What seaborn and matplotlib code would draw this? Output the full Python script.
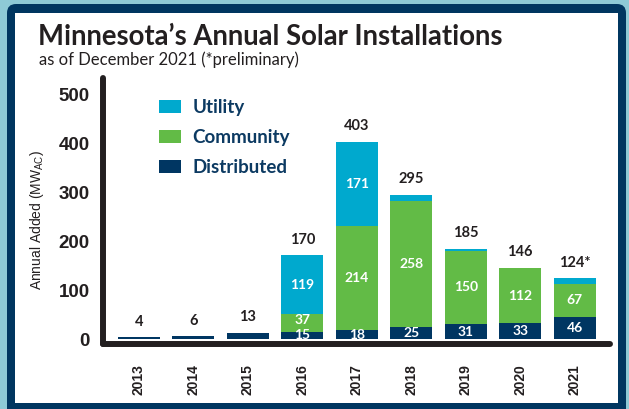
import matplotlib
matplotlib.use("Agg")
import matplotlib.pyplot as plt
import seaborn as sns
import pandas as pd
from matplotlib.patches import FancyBboxPatch, Rectangle, Patch

years = ["2013", "2014", "2015", "2016", "2017", "2018", "2019", "2020", "2021"]
distributed = [4, 6, 13, 15, 18, 25, 31, 33, 46]
community = [0, 0, 0, 37, 214, 258, 150, 112, 67]
utility = [0, 0, 0, 119, 171, 12, 4, 1, 11]
total_labels = ["4", "6", "13", "170", "403", "295", "185", "146", "124*"]

c_util = "#00A9CE"
c_comm = "#62BB46"
c_dist = "#003662"
navy = "#003660"
dark = "#231F20"

sns.set_theme(style="white")
plt.rcParams["font.family"] = ["Liberation Sans", "DejaVu Sans"]

df = pd.DataFrame({"year": years, "dist": distributed, "comm": community, "util": utility})
df["dc"] = df["dist"] + df["comm"]
df["total"] = df["dc"] + df["util"]

fig = plt.figure(figsize=(6.29, 4.09), dpi=100)
fig.patch.set_facecolor("#8ECAD6")
fig.add_artist(FancyBboxPatch((7, -10), 619, 415, boxstyle="round,pad=0,rounding_size=9",
                              transform=None, fc=navy, ec="none", zorder=-10))
fig.add_artist(Rectangle((15, 6), 603, 390, transform=None, fc="white", ec="none", zorder=-9))

ax = fig.add_axes([0.1645, 0.160, 0.8055, 0.649])
ax.set_facecolor("none")

# stacked look: draw cumulative layers from the top down
sns.barplot(data=df, x="year", y="total", color=c_util, saturation=1, width=0.77,
            linewidth=0, errorbar=None, ax=ax)
sns.barplot(data=df, x="year", y="dc", color=c_comm, saturation=1, width=0.77,
            linewidth=0, errorbar=None, ax=ax)
sns.barplot(data=df, x="year", y="dist", color=c_dist, saturation=1, width=0.77,
            linewidth=0, errorbar=None, ax=ax)

ax.set_xlim(-0.65, 8.65)
ax.set_ylim(-9, 533)
ax.set_yticks([0, 100, 200, 300, 400, 500])
ax.set_xlabel("")
ax.set_ylabel("")
for s in ["top", "right"]:
    ax.spines[s].set_visible(False)
for s in ["left", "bottom"]:
    ax.spines[s].set_color(dark)
    ax.spines[s].set_linewidth(4.3)
    ax.spines[s].set_capstyle("round")
ax.tick_params(axis="y", length=0, pad=10, labelsize=13.5, labelcolor=dark)
ax.tick_params(axis="x", length=0, pad=15, labelsize=10, labelcolor=dark, rotation=90)
for t in ax.get_yticklabels() + ax.get_xticklabels():
    t.set_fontweight("bold")

lab = dict(family=["Lato", "DejaVu Sans"], fontweight="bold", fontsize=10, ha="center", va="center")
for i, row in df.iterrows():
    if row["dist"] >= 15:
        ax.text(i, max(row["dist"] / 2, 7.5), str(row["dist"]), color="white", **lab)
    if row["comm"] >= 15:
        ax.text(i, row["dist"] + max(row["comm"] / 2, 24), str(row["comm"]), color="white", **lab)
    if row["util"] >= 15:
        ax.text(i, row["dc"] + row["util"] / 2, str(row["util"]), color="white", **lab)
    ax.annotate(total_labels[i], (i, row["total"]), xytext=(0, 6), textcoords="offset points",
                ha="center", va="bottom", color=dark, family=["Lato", "DejaVu Sans"],
                fontweight="bold", fontsize=10.5)

handles = [Patch(fc=c_util, ec="none"), Patch(fc=c_comm, ec="none"), Patch(fc=c_dist, ec="none")]
leg = ax.legend(handles, ["Utility", "Community", "Distributed"], loc="upper left",
                bbox_to_anchor=(0.11, 0.92), frameon=False, borderpad=0, borderaxespad=0,
                handlelength=1.15, handleheight=0.72, handletextpad=0.62, labelspacing=0.68,
                prop=dict(family="Lato", weight="bold", size=13.5))
for t in leg.get_texts():
    t.set_color("#0C3A62")

fig.text(38 / 629, 1 - 45 / 409, "Minnesota\u2019s Annual Solar Installations", family="Lato",
         fontweight="bold", fontsize=19.8, color=dark, va="baseline", ha="left")
fig.text(39 / 629, 1 - 65 / 409, "as of December 2021 (*preliminary)", family="Lato",
         fontsize=12, color=dark, va="baseline", ha="left")
fig.text(37 / 629, 1 - 220 / 409, "Annual Added (MW$_{\\mathregular{AC}}$)", rotation=90,
         fontsize=10, color=dark, va="center", ha="center")

fig.savefig("out.png", dpi=100)
